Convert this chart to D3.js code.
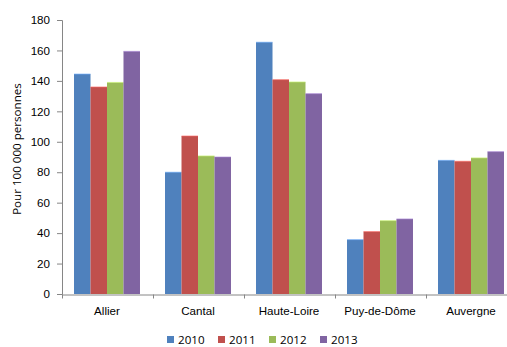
<!DOCTYPE html>
<html>
<head>
<meta charset="utf-8">
<script src="https://cdn.jsdelivr.net/npm/d3@7"></script>
<style>
  html, body { margin: 0; padding: 0; background: #fff; overflow: hidden; }
  svg { display: block; font-family: "Open Sans", "Noto Sans", sans-serif; }
</style>
</head>
<body>
<svg id="chart" width="507" height="347"></svg>
<script>
// Départements et région
const categories = ["Allier", "Cantal", "Haute-Loire", "Puy-de-Dôme", "Auvergne"];
const years = ["2010", "2011", "2012", "2013"];
// Taux pour 100 000 personnes, par année
const values2010 = [144.5, 80, 165.4, 35.7, 87.8];
const values2011 = [136, 103.8, 140.8, 41, 87.2];
const values2012 = [139, 90.7, 139.3, 48.2, 89.4];
const values2013 = [159.4, 90, 131.6, 49.3, 93.5];
const yTicks = [0, 20, 40, 60, 80, 100, 120, 140, 160, 180];
const colors = ["#4F81BD", "#C0504D", "#9BBB59", "#8064A2"];

const series = [values2010, values2011, values2012, values2013];
const fontSize = 11.6;

const svg = d3.select("#chart");
const x0 = 61.5, x1 = 516.5, yTop = 20, yBottom = 294;

const x = d3.scaleBand().domain(categories).range([x0, x1]).paddingInner(0.275).paddingOuter(0.1375);
const xs = d3.scaleBand().domain(years).range([0, x.bandwidth()]);
const y = d3.scaleLinear().domain([0, 180]).range([yBottom, yTop]);

// Barres
categories.forEach((cat, i) => {
  const g = svg.append("g").attr("transform", `translate(${x(cat)},0)`);
  years.forEach((yr, j) => {
    const v = series[j][i];
    g.append("rect")
      .attr("x", xs(yr))
      .attr("y", y(v))
      .attr("width", xs.bandwidth())
      .attr("height", yBottom - y(v))
      .attr("fill", colors[j]);
    // fin liseré clair en haut de la barre
    g.append("rect")
      .attr("x", xs(yr))
      .attr("y", y(v) - 0.5)
      .attr("width", xs.bandwidth())
      .attr("height", 1)
      .attr("fill", d3.color(colors[j]).brighter(0.8))
      .attr("opacity", 0.6);
  });
});

// Axe vertical
const yAxis = d3.axisLeft(y).tickValues(yTicks).tickSize(5).tickPadding(7).tickFormat(d3.format("d"));
const gy = svg.append("g").attr("transform", `translate(${x0 + 0.5},0)`).call(yAxis);
gy.selectAll(".domain, .tick line").attr("stroke", "#868686");
gy.selectAll("text").attr("font-size", fontSize).attr("fill", "#000");

// Axe horizontal
const xAxis = d3.axisBottom(x).tickSize(0).tickPadding(12);
const gx = svg.append("g").attr("transform", `translate(0,${yBottom + 0.5})`).call(xAxis);
gx.select(".domain").attr("stroke", "#868686");
gx.selectAll("text").attr("font-size", fontSize).attr("fill", "#000");
// graduations entre catégories
const bounds = categories.map(c => x(c) - x.step() * x.paddingInner() / 2);
bounds.push(x1);
gx.selectAll(".sep").data(bounds).enter().append("line")
  .attr("x1", d => Math.round(d) + 0.5).attr("x2", d => Math.round(d) + 0.5)
  .attr("y1", 0).attr("y2", 4).attr("stroke", "#868686");

// Titre de l'axe
svg.append("text")
  .attr("transform", "translate(21,149) rotate(-90)")
  .attr("text-anchor", "middle")
  .attr("font-size", fontSize)
  .text("Pour 100 000 personnes");

// Légende
const legend = svg.append("g").attr("transform", "translate(167,340)");
years.forEach((yr, j) => {
  const item = legend.append("g").attr("transform", `translate(${j * 51},0)`);
  item.append("rect").attr("x", 0).attr("y", -4).attr("width", 7).attr("height", 7).attr("fill", colors[j]);
  item.append("text").attr("x", 11).attr("y", 4).attr("font-size", fontSize).text(yr);
});
</script>
</body>
</html>
